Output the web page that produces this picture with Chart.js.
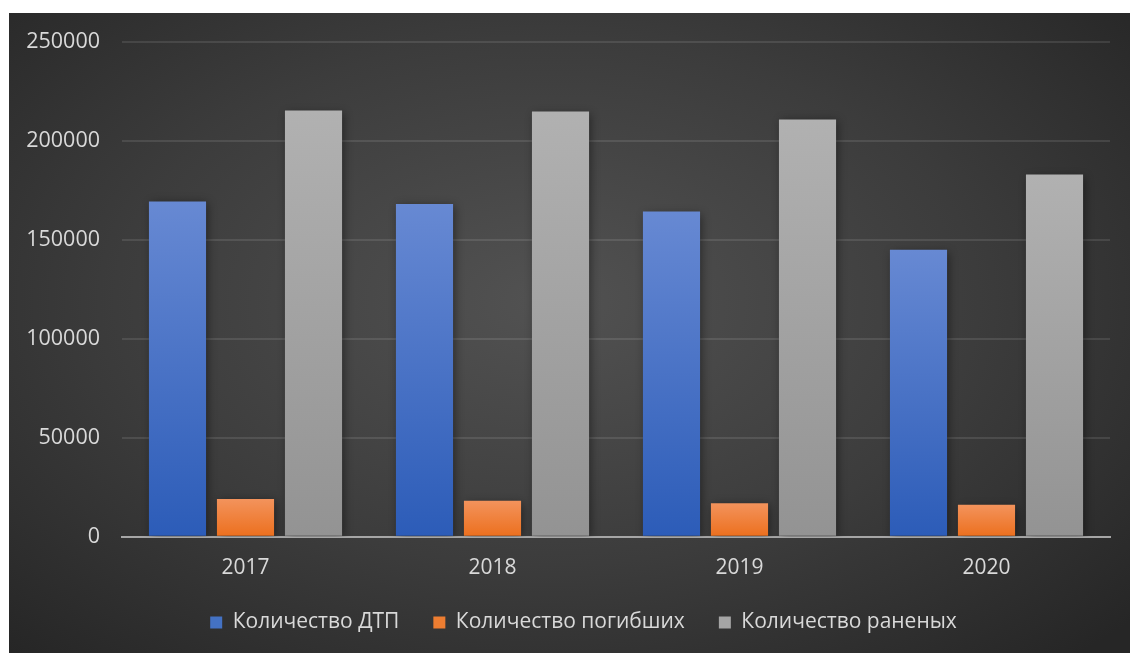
<!DOCTYPE html>
<html>
<head>
<meta charset="utf-8">
<script src="https://cdn.jsdelivr.net/npm/chart.js@4"></script>
<style>
  body { margin: 0; background: #fff; }
  #wrap {
    position: absolute; left: 9px; top: 13px; width: 1121px; height: 640px;
    background: radial-gradient(ellipse 70% 75% at 48% 45%, #525252 0%, #3c3c3c 55%, #262626 100%);
  }
</style>
</head>
<body>
<div id="wrap"><canvas id="chart" width="1121" height="640"></canvas></div>
<script>
// Данные
const years = ['2017', '2018', '2019', '2020'];
const accidents = [169432, 168099, 164358, 145073];
const deaths = [19088, 18214, 16981, 16152];
const injured = [215374, 214853, 210877, 183040];
const yTicks = [0, 50000, 100000, 150000, 200000, 250000];

const textColor = '#d9d9d9';
const font = 'Open Sans';

// градиент сверху вниз для каждого столбца
function barGradient(top, bottom) {
  return function(ctx) {
    const chart = ctx.chart;
    if (!chart.chartArea || ctx.raw == null) return bottom;
    const y = chart.scales.y;
    const y0 = y.getPixelForValue(ctx.raw);
    const y1 = y.getPixelForValue(0);
    const g = chart.ctx.createLinearGradient(0, y0, 0, y1);
    g.addColorStop(0, top);
    g.addColorStop(1, bottom);
    return g;
  };
}

// тень под столбцами
const shadowPlugin = {
  id: 'barShadow',
  beforeDatasetsDraw(chart) {
    const c = chart.ctx;
    c.save();
    c.shadowColor = 'rgba(0,0,0,0.45)';
    c.shadowBlur = 9;
    c.shadowOffsetX = 2;
    c.shadowOffsetY = 2;
  },
  afterDatasetsDraw(chart) {
    chart.ctx.restore();
  }
};

// легенда: меньше по высоте, чуть выше и правее (padding нужен для отступов между элементами)
const legendTweak = {
  id: 'legendTweak',
  beforeLayout(chart) {
    const lg = chart.legend;
    if (lg && !lg._patched) {
      const fit = lg.fit;
      lg.fit = function() {
        fit.call(this);
        this.height -= 12;
      };
      lg._patched = true;
    }
  },
  afterLayout(chart) {
    const lg = chart.legend;
    if (lg) {
      lg.top -= 22;
      lg.left += 24;
      lg.right += 24;
    }
  }
};

new Chart(document.getElementById('chart'), {
  type: 'bar',
  data: {
    labels: years,
    datasets: [
      {
        label: 'Количество ДТП',
        data: accidents,
        backgroundColor: barGradient('#6789d3', '#2c5cb8'),
        legendColor: '#4472c4'
      },
      {
        label: 'Количество погибших',
        data: deaths,
        backgroundColor: barGradient('#f3935c', '#ec6f1d'),
        legendColor: '#ed7d31'
      },
      {
        label: 'Количество раненых',
        data: injured,
        backgroundColor: barGradient('#b1b1b1', '#939393'),
        legendColor: '#a5a5a5'
      }
    ]
  },
  options: {
    responsive: false,
    animation: false,
    categoryPercentage: 0.826,
    barPercentage: 0.84,
    layout: { padding: { left: 0, right: 20, top: 29, bottom: 0 } },
    plugins: {
      tooltip: { enabled: false },
      legend: {
        position: 'bottom',
        labels: {
          color: textColor,
          font: { family: font, size: 21 },
          boxWidth: 12,
          boxHeight: 12,
          padding: 34,
          generateLabels(chart) {
            return chart.data.datasets.map((ds, i) => ({
              text: ds.label,
              fillStyle: ds.legendColor,
              strokeStyle: ds.legendColor,
              lineWidth: 0,
              fontColor: textColor,
              datasetIndex: i
            }));
          }
        }
      }
    },
    scales: {
      x: {
        grid: { display: false, drawTicks: false },
        border: { color: '#a6a6a6', width: 2 },
        ticks: { color: textColor, font: { family: font, size: 21 }, padding: 19 }
      },
      y: {
        min: 0,
        max: 250000,
        afterBuildTicks(scale) { scale.ticks = yTicks.map(v => ({ value: v })); },
        afterFit(scale) {
          scale.width = 113;
          scale.paddingTop = 0;
          scale.paddingBottom = 0;
        },
        grid: { color: 'rgba(255,255,255,0.1)', lineWidth: 2, drawTicks: false },
        border: { display: false },
        ticks: {
          color: textColor,
          font: { family: font, size: 21.5 },
          padding: 22,
          callback: v => String(v)
        }
      }
    }
  },
  plugins: [shadowPlugin, legendTweak]
});
</script>
</body>
</html>
